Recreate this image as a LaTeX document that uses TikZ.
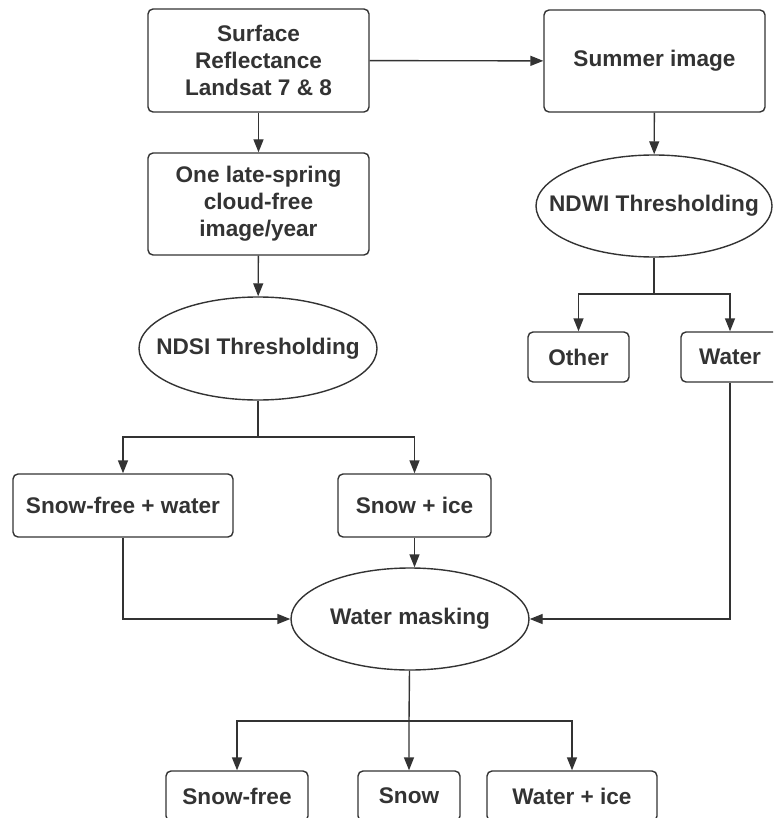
\documentclass[tikz,border=0pt]{standalone}
\usepackage{fontspec}
\setmainfont{Liberation Sans}
\usetikzlibrary{arrows.meta,shapes.geometric}
\definecolor{ink}{HTML}{333333}
\tikzset{
  flowfont/.style={font=\bfseries\fontsize{22.6}{27}\selectfont, text=ink},
  box/.style={flowfont, draw=ink, line width=1.4pt, rounded corners=5pt,
    align=center, inner sep=0pt},
  oval/.style={flowfont, draw=ink, line width=1.4pt, ellipse,
    inner xsep=-25pt, inner ysep=0pt},
  link/.style={draw=ink, line width=1.4pt, -{Triangle[length=13pt,width=10pt]}}
}
\begin{document}
\begin{tikzpicture}[x=1pt,y=-1pt]
  \useasboundingbox (0,0) rectangle (773,818);
  \clip (0,0) rectangle (773,818);

  \node[box, minimum width=221pt, minimum height=103pt] (src) at (258.5,60.5)
    {Surface\\Reflectance\\Landsat 7 \& 8};
  \node[box, minimum width=221pt, minimum height=102pt] (summer) at (654.5,61) {Summer image};
  \node[box, minimum width=221pt, minimum height=102pt] (late) at (258.5,204)
    {One late-spring\\cloud-free\\image/year};
  \node[oval, minimum width=238pt, minimum height=103pt] (ndsi) at (258,348.5) {NDSI Thresholding};
  \node[oval, minimum width=236pt, minimum height=102pt] (ndwi) at (654,206) {NDWI Thresholding};
  \node[box, minimum width=101pt, minimum height=50pt] (other) at (578.5,357) {Other};
  \node[box, minimum width=98pt, minimum height=50pt] (water) at (730,357) {Water};
  \node[box, minimum width=220pt, minimum height=63pt] (sfw) at (123,505.5) {Snow-free + water};
  \node[box, minimum width=153pt, minimum height=63pt] (snowice) at (414.5,505.5) {Snow + ice};
  \node[oval, minimum width=238pt, minimum height=102pt] (mask) at (410,619) {Water masking};
  \node[box, minimum width=142pt, minimum height=50pt] (snowfree) at (237,796) {Snow-free};
  \node[box, minimum width=102pt, minimum height=50pt] (snow) at (409,796) {Snow};
  \node[box, minimum width=170pt, minimum height=50pt] (watice) at (572,796) {Water + ice};

  \coordinate (ndsisplit) at (258,437);
  \coordinate (ndwisplit) at (654,294);
  \coordinate (masksplit) at (409,721);

  \draw[link] (src) -- (summer);
  \draw[link] (src) -- (late);
  \draw[link] (late) -- (ndsi);
  \draw[link] (summer) -- (ndwi);
  \draw[link] (ndwi) -- (ndwisplit) -| (other);
  \draw[link] (ndwisplit) -| (water);
  \draw[link] (ndsi) -- (ndsisplit) -| (sfw);
  \draw[link] (ndsisplit) -| (snowice);
  \draw[link] (sfw) |- (mask);
  \draw[link] (water) |- (mask);
  \draw[link] (snowice) -- (snowice |- mask.north);
  \draw[link] (mask) -- (masksplit) -- (snow);
  \draw[link] (masksplit) -| (snowfree);
  \draw[link] (masksplit) -| (watice);
\end{tikzpicture}
\end{document}
